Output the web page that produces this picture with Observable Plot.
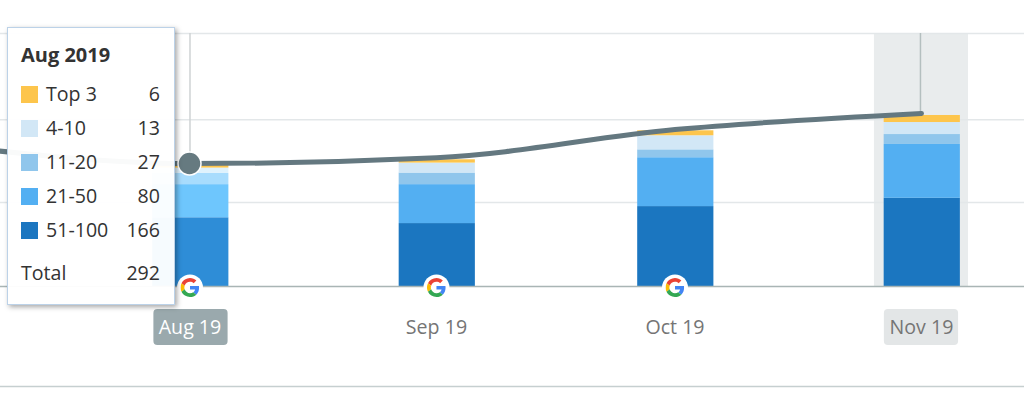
<!DOCTYPE html>
<html>
<head>
<meta charset="utf-8">
<script src="https://cdn.jsdelivr.net/npm/d3@7"></script>
<script src="https://cdn.jsdelivr.net/npm/@observablehq/plot@0.6"></script>
<style>
html,body{margin:0;padding:0;background:#fff;overflow:hidden}
#wrap{position:relative;width:1024px;height:394px;font-family:"Open Sans",sans-serif}
#tip{position:absolute;left:7px;top:27px;width:168px;height:278px;box-sizing:border-box;background:rgba(255,255,255,.96);border:1px solid #bcd2e8;box-shadow:2px 2px 5px rgba(0,0,0,.35);color:#333;font-size:19.6px}
#tip .t{position:absolute;left:13px;top:15px;font-weight:700;font-size:20px;line-height:24px}
#tip .r{position:absolute;left:13px;width:139px;height:24px;line-height:24px}
#tip .s{position:absolute;left:0;top:4px;width:17px;height:17px}
#tip .l{position:absolute;left:25px;top:0}
#tip .v{position:absolute;right:0;top:0}
</style>
</head>
<body>
<div id="wrap"></div>
<script>
// Data
const months = ["2019-08-01", "2019-09-01", "2019-10-01", "2019-11-01"];
const bands = ["51-100", "21-50", "11-20", "4-10", "Top 3"];
const rank51to100 = [166, 152, 193, 213];
const rank21to50 = [80, 94, 118, 130];
const rank11to20 = [27, 28, 19, 24];
const rank4to10 = [13, 24, 34, 29];
const rankTop3 = [6, 8, 12, 17];
const lineMonths = ["2019-07-01", "2019-08-01", "2019-09-01", "2019-10-01", "2019-11-01"];
const lineValues = [342, 297, 311, 379, 418];
const gridValues = [203, 403, 611];
const baseValue = 0;
const floorValue = -241.5;
const tipRows = [["Top 3", 6], ["4-10", 13], ["11-20", 27], ["21-50", 80], ["51-100", 166]];
const tipTotal = 292;
const tipTitle = "Aug 2019";

// Colours
const palette = {"51-100": "#1b76c0", "21-50": "#53aff2", "11-20": "#90c6ec", "4-10": "#d2e7f6", "Top 3": "#fdc54c"};
const hoverPalette = {"51-100": "#2e8dd7", "21-50": "#6ec6fd", "11-20": "#a8dcfd", "4-10": "#dff2fd", "Top 3": "#fdc54c"};

const date = s => new Date(s + "T00:00:00Z");
const series = [rank51to100, rank21to50, rank11to20, rank4to10, rankTop3];

// Table of stacked segments
const rows = [];
months.forEach((m, i) => {
  let base = 0;
  bands.forEach((b, j) => {
    const v = series[j][i];
    rows.push({date: date(m), band: b, y1: base, y2: base + v, hover: i === 0});
    base += v;
  });
});
const linePts = lineMonths.map((m, i) => ({date: date(m), value: lineValues[i]}));
const hrs = (d, h) => d3.utcHour.offset(d, h);
const googleMonths = months.slice(0, 3).map(date);
const googleSvg = "data:image/svg+xml," + encodeURIComponent('<svg xmlns="http://www.w3.org/2000/svg" viewBox="0 0 48 48"><path fill="#EA4335" d="M24 9.5c3.54 0 6.71 1.22 9.21 3.6l6.85-6.85C35.9 2.38 30.47 0 24 0 14.62 0 6.51 5.38 2.56 13.22l7.98 6.19C12.43 13.72 17.74 9.5 24 9.5z"/><path fill="#4285F4" d="M46.98 24.55c0-1.57-.15-3.09-.38-4.55H24v9.02h12.94c-.58 2.96-2.26 5.48-4.78 7.18l7.73 6c4.51-4.18 7.09-10.36 7.09-17.65z"/><path fill="#FBBC05" d="M10.53 28.59c-.48-1.45-.76-2.99-.76-4.59s.27-3.14.76-4.59l-7.98-6.19C.92 16.46 0 20.12 0 24c0 3.88.92 7.54 2.56 10.78l7.97-6.19z"/><path fill="#34A853" d="M24 48c6.48 0 11.93-2.13 15.89-5.81l-7.73-6c-2.15 1.45-4.92 2.3-8.16 2.3-6.26 0-11.57-4.22-13.47-9.91l-7.98 6.19C6.51 42.62 14.62 48 24 48z"/></svg>');
const aug = date(months[0]), nov = date(months[3]);

const chart = Plot.plot({
  width: 1024,
  height: 394,
  margin: 0,
  marginBottom: 108,
  style: {fontFamily: '"Open Sans", sans-serif', background: "transparent"},
  x: {type: "utc", domain: [new Date("2019-07-08T04:00:00Z"), new Date("2019-11-13T23:00:00Z")], range: [0, 1024], axis: null},
  y: {domain: [0, 611], range: [286, 33], axis: null},
  marks: [
    // highlighted month band
    Plot.rect([nov], {x1: d => hrs(d, -142), x2: d => hrs(d, 142), y1: baseValue, y2: gridValues[2], fill: "#e9eced"}),
    // grid
    Plot.ruleY(gridValues, {stroke: "#e3e7e9", strokeWidth: 1.5}),
    Plot.ruleY([floorValue], {stroke: "#c6cfd0", strokeWidth: 1.5}),
    // cursors
    Plot.ruleX([aug], {y1: lineValues[1], y2: gridValues[2], stroke: "#cfd3d4", strokeWidth: 1.5}),
    Plot.ruleX([nov], {y1: lineValues[4], y2: gridValues[2], stroke: "#b4bfbf", strokeWidth: 1.5, dx: -1}),
    // stacked bars
    Plot.rect(rows, {
      x1: d => hrs(d.date, -115), x2: d => hrs(d.date, 115),
      y1: "y1", y2: "y2", dx: 0.8,
      fill: d => (d.hover ? hoverPalette : palette)[d.band]
    }),
    Plot.ruleY([baseValue], {stroke: "#a9b5b5", strokeWidth: 1.5}),
    // total line
    Plot.line(linePts, {x: "date", y: "value", curve: "monotone-x", stroke: "#647880", strokeWidth: 5, strokeLinecap: "round", clip: true}),
    Plot.dot([linePts[1]], {x: "date", y: "value", dx: -0.5, r: 11.5, fill: "#667a80", stroke: "#fff", strokeWidth: 1.5}),
    // google markers
    Plot.dot(googleMonths, {x: d => d, y: baseValue, dy: 1, r: 13, fill: "#fff"}),
    Plot.image(googleMonths, {x: d => d, y: baseValue, dy: 1, width: 19, height: 19, src: () => googleSvg}),
    // month pills
    Plot.rect([aug], {x1: d => hrs(d, -112), x2: d => hrs(d, 112), y1: -55.5, y2: -142.5, dx: 1, fill: "#9aa9ad", r: 4}),
    Plot.rect([nov], {x1: d => hrs(d, -112), x2: d => hrs(d, 112), y1: -55.5, y2: -142.5, fill: "#e3e6e7", r: 4}),
    Plot.axisX(months.map(date), {
      tickSize: 0, tickPadding: 41, lineAnchor: "middle", fontSize: 19.6,
      tickFormat: d3.utcFormat("%b %y"),
      fill: d => +d === +aug ? "#fff" : "#757575"
    })
  ]
});
const wrap = document.getElementById("wrap");
wrap.appendChild(chart);

// Hover tooltip
const tip = document.createElement("div");
tip.id = "tip";
let html = `<div class="t">${tipTitle}</div>`;
const centers = [65.5, 99.5, 133.5, 167.5, 201.5];
tipRows.forEach(([label, value], i) => {
  html += `<div class="r" style="top:${centers[i] - 12}px"><span class="s" style="background:${palette[label]}"></span><span class="l">${label}</span><span class="v">${value}</span></div>`;
});
html += `<div class="r" style="top:233px"><span style="position:absolute;left:0">Total</span><span class="v">${tipTotal}</span></div>`;
tip.innerHTML = html;
wrap.appendChild(tip);
</script>
</body>
</html>
